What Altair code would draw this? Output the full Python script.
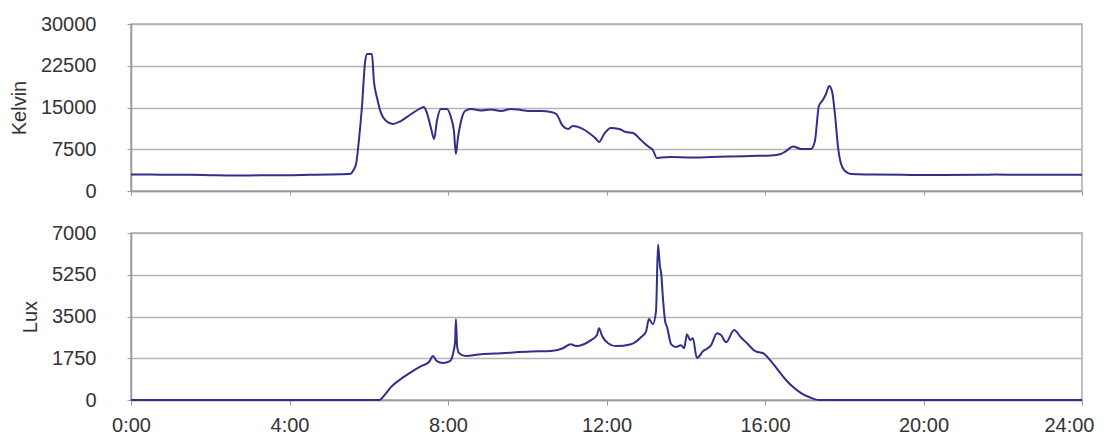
import altair as alt
import pandas as pd

# ---- data ----
k_hours = [0, 0.5, 1, 1.5, 2, 2.5, 3, 3.5, 4, 4.5, 5, 5.3, 5.55, 5.60, 5.68, 5.75, 5.83, 5.91, 5.96, 6.08,
           6.13, 6.21, 6.31, 6.44, 6.61, 6.81, 7.07, 7.32, 7.39, 7.47, 7.57, 7.65, 7.72, 7.82, 7.97, 8.08,
           8.15, 8.20, 8.25, 8.33, 8.43, 8.58, 8.83, 9.08, 9.34, 9.59, 9.84, 10.09, 10.35, 10.60, 10.73,
           10.90, 11.03, 11.15, 11.36, 11.56, 11.74, 11.81, 11.94, 12.11, 12.32, 12.49, 12.67, 12.87,
           13.07, 13.17, 13.27, 13.38, 13.63, 14.13, 14.64, 15.14, 15.65, 16.15, 16.40, 16.53, 16.71,
           16.91, 17.16, 17.26, 17.36, 17.46, 17.54, 17.62, 17.69, 17.77, 17.84, 17.92, 18.02, 18.17,
           18.68, 19.5, 20.5, 21.5, 21.8, 22.5, 23.3, 24]
kelvin = [2950, 2950, 2900, 2900, 2850, 2800, 2800, 2850, 2850, 2900, 2950, 3000, 3100, 3600, 4850, 9000,
          15270, 23350, 24600, 24600, 19760, 16700, 14000, 12570, 12030, 12570, 13830, 14900, 15090,
          14000, 11300, 9340, 12570, 14730, 14730, 13100, 10780, 6650, 9520, 12570, 14370, 14730, 14460,
          14640, 14370, 14730, 14550, 14370, 14370, 14190, 13830, 11670, 11140, 11670, 11300, 10420,
          9340, 8800, 10240, 11300, 11140, 10600, 10420, 9160, 7900, 7360, 5930, 6020, 6100, 6020, 6100,
          6200, 6290, 6380, 6650, 7180, 7990, 7540, 7540, 8980, 15270, 16340, 17420, 18860, 17960, 13470,
          8080, 4850, 3590, 3050, 2960, 2900, 2880, 2900, 2950, 2900, 2920, 2900]

lux_hours = [0, 2, 4, 6, 6.26, 6.44, 6.56, 6.81, 7.07, 7.32, 7.52, 7.62, 7.72, 7.87, 8.05, 8.13, 8.18,
             8.20, 8.23, 8.28, 8.45, 8.83, 9.34, 10.09, 10.60, 10.90, 11.10, 11.23, 11.61, 11.76, 11.81,
             11.89, 12.04, 12.24, 12.62, 12.87, 13.00, 13.07, 13.17, 13.25, 13.30, 13.35, 13.38, 13.43,
             13.48, 13.53, 13.63, 13.75, 13.88, 13.96, 14.03, 14.11, 14.18, 14.28, 14.44, 14.64, 14.79,
             14.89, 15.02, 15.22, 15.39, 15.57, 15.75, 15.95, 16.15, 16.35, 16.53, 16.71, 16.91, 17.11,
             17.36, 20, 24]
lux = [0, 0, 0, 0, 0, 290, 540, 880, 1170, 1420, 1590, 1840, 1630, 1550, 1630, 1960, 2470, 3390, 2260,
       1960, 1840, 1920, 1960, 2030, 2050, 2170, 2340, 2260, 2510, 2720, 3010, 2680, 2380, 2260, 2340,
       2630, 2880, 3390, 3180, 3720, 6520, 5600, 5310, 4140, 3300, 3050, 2340, 2220, 2300, 2170, 2760,
       2510, 2590, 1760, 2050, 2300, 2800, 2720, 2420, 2930, 2630, 2340, 2050, 1960, 1630, 1210, 840,
       540, 290, 125, 0, 0, 0]

hour_ticks = [0, 4, 8, 12, 16, 20, 24]
kelvin_ticks = [0, 7500, 15000, 22500, 30000]
lux_ticks = [0, 1750, 3500, 5250, 7000]

kdf = pd.DataFrame({"hour": k_hours, "value": kelvin})
ldf = pd.DataFrame({"hour": lux_hours, "value": lux})

LINE = "#30308c"
FONT = "Liberation Sans"

x_scale = alt.Scale(domain=[0, 24], nice=False, zero=False)

top = alt.Chart(kdf).mark_line(color=LINE, strokeWidth=2, interpolate="monotone").encode(
    x=alt.X("hour:Q", scale=x_scale,
            axis=alt.Axis(values=hour_ticks, labels=False, title=None, grid=False, tickSize=4)),
    y=alt.Y("value:Q", scale=alt.Scale(domain=[0, 30000], nice=False),
            axis=alt.Axis(values=kelvin_ticks, format="d", title="Kelvin", tickSize=4,
                          labelPadding=31, titlePadding=11)),
).properties(width=951, height=167)

bottom = alt.Chart(ldf).mark_line(color=LINE, strokeWidth=2, interpolate="monotone").encode(
    x=alt.X("hour:Q", scale=x_scale,
            axis=alt.Axis(values=hour_ticks, labelExpr="datum.value + ':00'", title=None, grid=False,
                          tickSize=5, labelPadding=10,
                          labelAlign={"condition": {"test": "datum.value == 24", "value": "right"},
                                      "value": "center"},
                          labelOffset={"condition": {"test": "datum.value == 24", "value": 12},
                                       "value": 0})),
    y=alt.Y("value:Q", scale=alt.Scale(domain=[0, 7000], nice=False),
            axis=alt.Axis(values=lux_ticks, format="d", title="Lux", tickSize=4,
                          labelPadding=31, titlePadding=11)),
).properties(width=951, height=167)

chart = alt.vconcat(top, bottom, spacing=42, bounds="flush").properties(
    padding={"left": 0, "top": 5, "right": 0, "bottom": 0}
).configure_view(
    stroke="#aaaaaa", strokeWidth=1.5
).configure_axis(
    labelFont=FONT, titleFont=FONT, labelFontSize=20, titleFontSize=20,
    labelColor="#333333", titleColor="#333333", titleFontWeight="normal",
    gridColor="#b4b4b4", gridWidth=1.5, domainColor="#999999", tickColor="#999999",
    domainWidth=1.5,
)

chart.save("out.html", embed_options={"renderer": "svg", "actions": False})
